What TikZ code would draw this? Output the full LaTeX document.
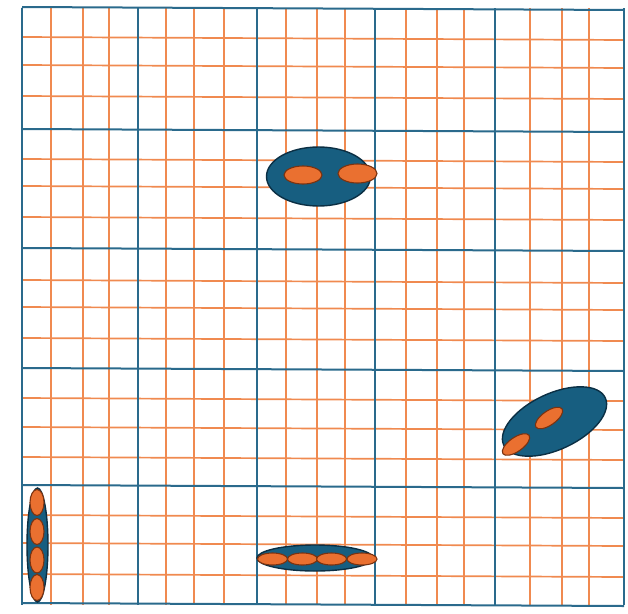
\documentclass[tikz,border=0pt]{standalone}
\usetikzlibrary{shapes.geometric}

\definecolor{cellblue}{HTML}{175E80}
\definecolor{celledge}{HTML}{0B2F44}
\definecolor{dotorange}{HTML}{EA7030}
\definecolor{dotedge}{HTML}{7A3210}
\definecolor{gridorange}{HTML}{F08A50}
\definecolor{gridblue}{HTML}{2A6A8C}

\newcommand*{\gridleft}{22}
\newcommand*{\gridright}{624}
\newcommand*{\gridtop}{8}
\newcommand*{\gridbottom}{605}

\begin{document}
\begin{tikzpicture}
[
	x=1pt,
	y=-1pt,
	blob/.style={ellipse,draw=celledge,fill=cellblue,line width=1.4pt,inner sep=0pt},
	dot/.style={ellipse,draw=dotedge,fill=dotorange,line width=1.1pt,inner sep=0pt}
]

	\useasboundingbox (0,0) rectangle (628,613);

	% fine grid
	\foreach \x in {51,83,109,166,194,224,286,317,345,406,437,464,530,562,589} {
		\draw[gridorange,line width=1.7pt] (\x,\gridtop) -- (\x,\gridbottom);
	}
	\foreach \y in {37,65,96,159,186,217,280,307,338,398,427,457,515,543,574} {
		\draw[gridorange,line width=1.7pt] (\gridleft,\y) -- (\gridright,\y+3);
	}

	% coarse grid
	\foreach \x in {22,138,257,375,495,624} {
		\draw[gridblue,line width=2pt] (\x,\gridtop) -- (\x,\gridbottom);
	}
	\foreach \y in {7,129,248,368,485,603} {
		\draw[gridblue,line width=2pt] (\gridleft,\y) -- (\gridright,\y+3);
	}

	% top cell
	\node[blob, minimum width=104pt, minimum height=59pt] (topcell) at (318.5,176.5) {};
	\node[dot, minimum width=38pt, minimum height=18pt] (topa) at (303,175) {};
	\node[dot, minimum width=39pt, minimum height=19pt] (topb) at (357.5,173.5) {};

	% tilted cell
	\node[blob, minimum width=112pt, minimum height=56pt, rotate=25] (tiltcell) at (554.5,421.5) {};
	\node[dot, minimum width=32pt, minimum height=14pt, rotate=35] (tilta) at (549,418) {};
	\node[dot, minimum width=32pt, minimum height=14pt, rotate=35] (tiltb) at (516,444.5) {};

	% flat cell
	\node[blob, minimum width=116pt, minimum height=26pt] (flatcell) at (315,558) {};
	\foreach \x [count=\i] in {272.5,302.5,331.5,362} {
		\node[dot, minimum width=30pt, minimum height=12pt] (flat\i) at (\x,559) {};
	}

	% upright cell
	\node[blob, minimum width=21pt, minimum height=114pt] (upcell) at (37.5,545) {};
	\foreach \y [count=\i] in {502.5,531.5,560,587.5} {
		\node[dot, minimum width=14pt, minimum height=26pt] (up\i) at (37,\y) {};
	}

\end{tikzpicture}
\end{document}
